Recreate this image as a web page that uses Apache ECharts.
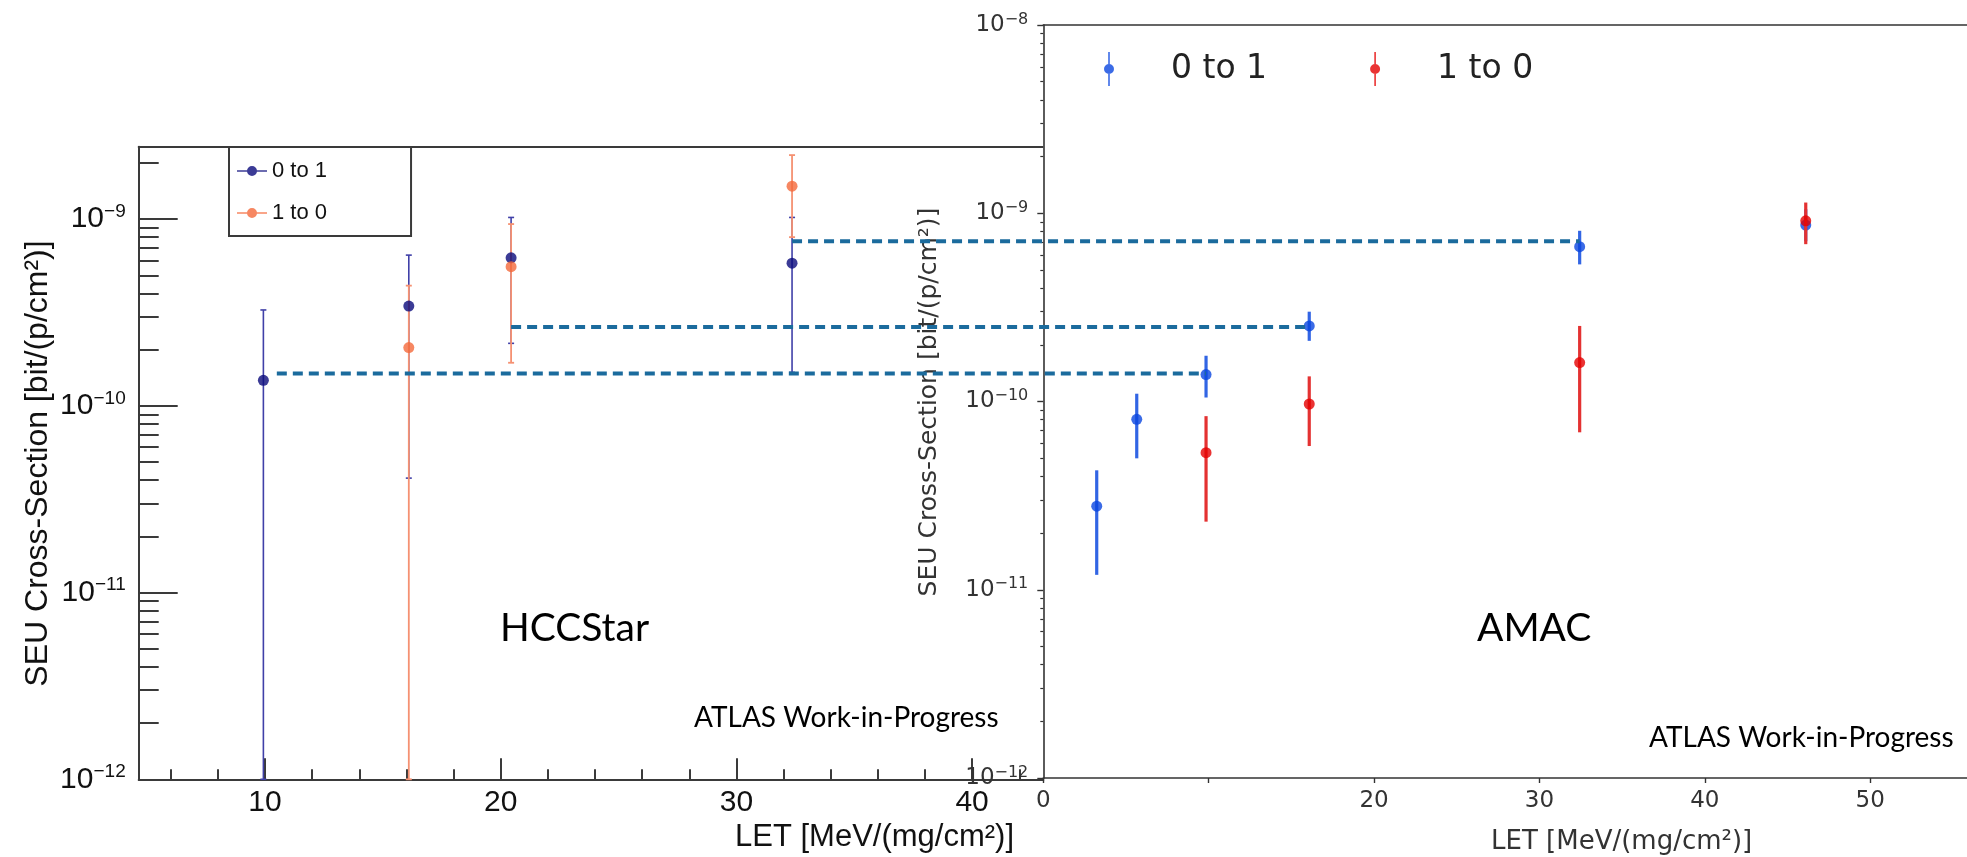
<!DOCTYPE html>
<html>
<head>
<meta charset="utf-8">
<script src="https://cdn.jsdelivr.net/npm/echarts@6/dist/echarts.min.js"></script>
<style>
html, body { margin: 0; padding: 0; background: #fff; }
#main { width: 1967px; height: 857px; }
</style>
</head>
<body>
<div id="main"></div>
<script>
// HCCStar (left plot)
var hccLet01 = [9.93, 16.1, 20.44, 32.36];
var hccSeu01 = [1.37e-10, 3.42e-10, 6.2e-10, 5.8e-10];
var hccHi01 = [3.26e-10, 6.41e-10, 1.02e-9, 1.02e-9];
var hccLo01 = [1e-12, 4.1e-11, 2.16e-10, 1.51e-10];

var hccLet10 = [16.1, 20.44, 32.36];
var hccSeu10 = [2.05e-10, 5.56e-10, 1.5e-9];
var hccHi10 = [4.4e-10, 9.4e-10, 2.2e-9];
var hccLo10 = [1e-12, 1.7e-10, 8.0e-10];

// AMAC (right plot)
var amacLet01 = [3.23, 5.65, 9.84, 16.08, 32.43, 46.1];
var amacSeu01 = [2.78e-11, 8.04e-11, 1.39e-10, 2.52e-10, 6.64e-10, 8.65e-10];
var amacHi01 = [4.31e-11, 1.1e-10, 1.75e-10, 3.0e-10, 8.07e-10, 1.05e-9];
var amacLo01 = [1.2e-11, 4.99e-11, 1.05e-10, 2.1e-10, 5.35e-10, 7.1e-10];

var amacLet10 = [9.84, 16.08, 32.43, 46.1];
var amacSeu10 = [5.35e-11, 9.7e-11, 1.61e-10, 9.12e-10];
var amacHi10 = [8.36e-11, 1.36e-10, 2.52e-10, 1.14e-9];
var amacLo10 = [2.3e-11, 5.8e-11, 6.86e-11, 6.85e-10];

// dashed guides: from HCCStar LET to AMAC LET at an AMAC cross-section level
var guideFromLet = [10.5, 20.44, 32.36];
var guideToLet = [9.84, 16.08, 32.43];
var guideSeu = [1.41e-10, 2.49e-10, 7.1e-10];

// axis ticks
var hccXLabels = [10, 20, 30, 40];
var hccXMinor = [6, 8, 12, 14, 16, 18, 22, 24, 26, 28, 32, 34, 36, 38, 42];
var hccYMajor = [1e-12, 1e-11, 1e-10, 1e-9];
var amacXLabels = [0, 20, 30, 40, 50];
var amacXTicks = [0, 10, 20, 30, 40, 50];
var amacYMajor = [1e-12, 1e-11, 1e-10, 1e-9, 1e-8];

function logMinors(majors, top) {
    var out = [];
    for (var i = 0; i < majors.length; i++) {
        for (var k = 2; k <= 9; k++) {
            var v = k * majors[i];
            if (v < top) out.push(v);
        }
    }
    return out;
}
var hccYMinor = logMinors(hccYMajor, 2.44e-9);
var amacYMinor = logMinors(amacYMajor, 1e-8);

function pts(xs, ys) {
    var d = [];
    for (var i = 0; i < xs.length; i++) d.push([xs[i], ys[i]]);
    return d;
}
function bars(xs, lo, hi) {
    var d = [];
    for (var i = 0; i < xs.length; i++) d.push([xs[i], lo[i], hi[i]]);
    return d;
}
function errorBar(color, width, cap) {
    return function (params, api) {
        var x = api.value(0);
        var a = api.coord([x, api.value(2)]);
        var b = api.coord([x, api.value(1)]);
        var kids = [{
            type: 'line',
            shape: { x1: a[0], y1: a[1], x2: b[0], y2: b[1] },
            style: { stroke: color, lineWidth: width }
        }];
        if (cap) {
            kids.push({ type: 'line', shape: { x1: a[0] - cap, y1: a[1], x2: a[0] + cap, y2: a[1] }, style: { stroke: color, lineWidth: width } });
            kids.push({ type: 'line', shape: { x1: b[0] - cap, y1: b[1], x2: b[0] + cap, y2: b[1] }, style: { stroke: color, lineWidth: width } });
        }
        return { type: 'group', children: kids };
    };
}
function powLabel(v) {
    var e = Math.round(Math.log10(v));
    return '{b|10}{s|\u2212' + (-e) + '}';
}

var ROOTFONT = 'Liberation Sans';
var MPLFONT = 'DejaVu Sans';
var NOTEFONT = 'Lato';
var frame = '#3a3a3a';
var mplAxis = '#333';

var chart = echarts.init(document.getElementById('main'));

var option = {
    animation: false,
    backgroundColor: '#fff',
    grid: [
        { left: 138.7, top: 146.7, width: 904.6, height: 632.6, containLabel: false },
        { left: 1043.3, top: 25, width: 923.7, height: 753, show: true, backgroundColor: '#fff', borderWidth: 0, z: 5 }
    ],
    legend: [
        {
            data: [
                { name: 'HCCStar 0 to 1', icon: 'path://M0,4.2H30V5.8H0Z M10,5A5,5,0,1,1,20,5A5,5,0,1,1,10,5Z' },
                { name: 'HCCStar 1 to 0', icon: 'path://M0,4.2H30V5.8H0Z M10,5A5,5,0,1,1,20,5A5,5,0,1,1,10,5Z' }
            ],
            formatter: function (n) { return n.replace('HCCStar ', ''); },
            orient: 'vertical',
            left: 229, top: 147,
            padding: [13, 84, 12, 8],
            itemGap: 20, itemWidth: 30, itemHeight: 10,
            backgroundColor: '#fff', borderColor: frame, borderWidth: 2,
            selectedMode: false,
            textStyle: { fontFamily: ROOTFONT, fontSize: 22, color: '#111' },
            z: 4
        },
        {
            data: [
                { name: 'AMAC 0 to 1', icon: 'path://M4.2,0H5.8V34H4.2Z M0,17A5,5,0,1,1,10,17A5,5,0,1,1,0,17Z' },
                { name: 'AMAC 1 to 0', icon: 'path://M4.2,0H5.8V34H4.2Z M0,17A5,5,0,1,1,10,17A5,5,0,1,1,0,17Z' }
            ],
            formatter: function (n) { return n.replace('AMAC ', ''); },
            orient: 'horizontal',
            left: 1104, top: 52,
            padding: 0,
            itemGap: 103, itemWidth: 10, itemHeight: 34,
            selectedMode: false,
            textStyle: { fontFamily: MPLFONT, fontSize: 33, color: '#222', padding: [0, 0, 0, 52] },
            z: 8
        }
    ],
    xAxis: [
        {   // 0: HCCStar main
            type: 'value', gridIndex: 0, position: 'bottom', min: 4.64, max: 43.02,
            axisLine: { onZero: false, lineStyle: { color: frame, width: 2 } },
            axisTick: { inside: true, length: 21, customValues: hccXLabels, lineStyle: { color: frame, width: 2 } },
            axisLabel: { customValues: hccXLabels, margin: 8, fontFamily: ROOTFONT, fontSize: 30, color: '#111', showMinLabel: true, showMaxLabel: true },
            splitLine: { show: false }
        },
        {   // 1: HCCStar minor ticks
            type: 'value', gridIndex: 0, position: 'bottom', min: 4.64, max: 43.02,
            axisLine: { show: false, onZero: false },
            axisTick: { inside: true, length: 10, customValues: hccXMinor, lineStyle: { color: frame, width: 2 } },
            axisLabel: { show: false },
            splitLine: { show: false }
        },
        {   // 2: HCCStar top frame
            type: 'value', gridIndex: 0, position: 'top', min: 4.64, max: 43.02,
            axisLine: { onZero: false, lineStyle: { color: frame, width: 2 } },
            axisTick: { show: false }, axisLabel: { show: false }, splitLine: { show: false }
        },
        {   // 3: AMAC main
            type: 'value', gridIndex: 1, position: 'bottom', min: 0, max: 55.85, z: 6,
            axisLine: { onZero: false, lineStyle: { color: mplAxis, width: 1.6 } },
            axisTick: { inside: false, length: 5, customValues: amacXTicks, lineStyle: { color: mplAxis, width: 1.4 } },
            axisLabel: { customValues: amacXLabels, margin: 12, fontFamily: MPLFONT, fontSize: 23, color: '#333', showMinLabel: true, showMaxLabel: true },
            splitLine: { show: false }
        },
        {   // 4: AMAC top frame
            type: 'value', gridIndex: 1, position: 'top', min: 0, max: 55.85, z: 6,
            axisLine: { onZero: false, lineStyle: { color: mplAxis, width: 1.6 } },
            axisTick: { show: false }, axisLabel: { show: false }, splitLine: { show: false }
        }
    ],
    yAxis: [
        {   // 0: HCCStar main
            type: 'log', gridIndex: 0, position: 'left', min: 1e-12, max: 2.44e-9,
            axisLine: { onZero: false, lineStyle: { color: frame, width: 2 } },
            axisTick: { inside: true, length: 39, customValues: hccYMajor, lineStyle: { color: frame, width: 2 } },
            axisLabel: {
                customValues: hccYMajor, margin: 13, formatter: powLabel, showMinLabel: true, showMaxLabel: true,
                rich: {
                    b: { fontFamily: ROOTFONT, fontSize: 30, color: '#111', lineHeight: 34 },
                    s: { fontFamily: ROOTFONT, fontSize: 19, color: '#111', verticalAlign: 'top', lineHeight: 20 }
                }
            },
            splitLine: { show: false }
        },
        {   // 1: HCCStar minor ticks
            type: 'log', gridIndex: 0, position: 'left', min: 1e-12, max: 2.44e-9,
            axisLine: { show: false, onZero: false },
            axisTick: { inside: true, length: 20, customValues: hccYMinor, lineStyle: { color: frame, width: 2 } },
            axisLabel: { show: false },
            splitLine: { show: false }
        },
        {   // 2: AMAC main
            type: 'log', gridIndex: 1, position: 'left', min: 1e-12, max: 1e-8, z: 6,
            axisLine: { onZero: false, lineStyle: { color: mplAxis, width: 1.6 } },
            axisTick: { inside: false, length: 6, customValues: amacYMajor, lineStyle: { color: mplAxis, width: 1.4 } },
            axisLabel: {
                customValues: amacYMajor, margin: 15, formatter: powLabel, showMinLabel: true, showMaxLabel: true,
                rich: {
                    b: { fontFamily: MPLFONT, fontSize: 23, color: '#333', lineHeight: 27 },
                    s: { fontFamily: MPLFONT, fontSize: 16, color: '#333', verticalAlign: 'top', lineHeight: 17 }
                }
            },
            splitLine: { show: false }
        },
        {   // 3: AMAC minor ticks
            type: 'log', gridIndex: 1, position: 'left', min: 1e-12, max: 1e-8, z: 6,
            axisLine: { show: false, onZero: false },
            axisTick: { inside: false, length: 3, customValues: amacYMinor, lineStyle: { color: mplAxis, width: 1.2 } },
            axisLabel: { show: false },
            splitLine: { show: false }
        }
    ],
    series: [
        {
            name: 'HCCStar 0 to 1 err', type: 'custom', xAxisIndex: 0, yAxisIndex: 0, z: 2,
            renderItem: errorBar('#4040a8', 1.6, 3), encode: { x: 0, y: [1, 2] },
            data: bars(hccLet01, hccLo01, hccHi01)
        },
        {
            name: 'HCCStar 1 to 0 err', type: 'custom', xAxisIndex: 0, yAxisIndex: 0, z: 2,
            renderItem: errorBar('#f59172', 1.8, 3), encode: { x: 0, y: [1, 2] },
            data: bars(hccLet10, hccLo10, hccHi10)
        },
        {
            name: 'HCCStar 0 to 1', type: 'scatter', xAxisIndex: 0, yAxisIndex: 0, z: 3,
            symbol: 'circle', symbolSize: 11, itemStyle: { color: '#0a0a7c' },
            data: pts(hccLet01, hccSeu01)
        },
        {
            name: 'HCCStar 1 to 0', type: 'scatter', xAxisIndex: 0, yAxisIndex: 0, z: 3,
            symbol: 'circle', symbolSize: 11, itemStyle: { color: '#f4693b' },
            data: pts(hccLet10, hccSeu10)
        },
        {
            name: 'AMAC 0 to 1 err', type: 'custom', xAxisIndex: 3, yAxisIndex: 2, z: 7,
            renderItem: errorBar('#3265e4', 3.2, 0), encode: { x: 0, y: [1, 2] },
            data: bars(amacLet01, amacLo01, amacHi01)
        },
        {
            name: 'AMAC 0 to 1', type: 'scatter', xAxisIndex: 3, yAxisIndex: 2, z: 8,
            symbol: 'circle', symbolSize: 11, itemStyle: { color: '#0a46e0' },
            data: pts(amacLet01, amacSeu01)
        },
        {
            name: 'AMAC 1 to 0 err', type: 'custom', xAxisIndex: 3, yAxisIndex: 2, z: 9,
            renderItem: errorBar('#e43232', 3.2, 0), encode: { x: 0, y: [1, 2] },
            data: bars(amacLet10, amacLo10, amacHi10)
        },
        {
            name: 'AMAC 1 to 0', type: 'scatter', xAxisIndex: 3, yAxisIndex: 2, z: 10,
            symbol: 'circle', symbolSize: 11, itemStyle: { color: '#e50000' },
            data: pts(amacLet10, amacSeu10)
        }
    ]
};
chart.setOption(option);

// texts and the dashed guide lines spanning both plots
var els = [
    { type: 'text', x: 38, y: 463.5, rotation: Math.PI / 2, z: 20,
      style: { text: 'SEU Cross-Section [bit/(p/cm\u00b2)]', fontFamily: ROOTFONT, fontSize: 32, fill: '#111', align: 'center', verticalAlign: 'middle' } },
    { type: 'text', x: 735, y: 837, z: 20,
      style: { text: 'LET [MeV/(mg/cm\u00b2)]', fontFamily: ROOTFONT, fontSize: 31, fill: '#111', align: 'left', verticalAlign: 'middle' } },
    { type: 'text', x: 929, y: 402, rotation: Math.PI / 2, z: 20,
      style: { text: 'SEU Cross-Section [bit/(p/cm\u00b2)]', fontFamily: MPLFONT, fontSize: 25, fill: '#333', align: 'center', verticalAlign: 'middle' } },
    { type: 'text', x: 1491, y: 842.5, z: 20,
      style: { text: 'LET [MeV/(mg/cm\u00b2)]', fontFamily: MPLFONT, fontSize: 26, fill: '#333', align: 'left', verticalAlign: 'middle' } },
    { type: 'text', x: 500, y: 628, z: 20,
      style: { text: 'HCCStar', fontFamily: NOTEFONT, fontSize: 39, fill: '#000', align: 'left', verticalAlign: 'middle' } },
    { type: 'text', x: 1477, y: 628, z: 20,
      style: { text: 'AMAC', fontFamily: NOTEFONT, fontSize: 39, fill: '#000', align: 'left', verticalAlign: 'middle' } },
    { type: 'text', x: 694, y: 718, z: 20,
      style: { text: 'ATLAS Work-in-Progress', fontFamily: NOTEFONT, fontSize: 28, fill: '#000', align: 'left', verticalAlign: 'middle' } },
    { type: 'text', x: 1649, y: 737.5, z: 20,
      style: { text: 'ATLAS Work-in-Progress', fontFamily: NOTEFONT, fontSize: 28, fill: '#000', align: 'left', verticalAlign: 'middle' } }
];
for (var i = 0; i < guideSeu.length; i++) {
    var x1 = chart.convertToPixel({ xAxisIndex: 0 }, guideFromLet[i]);
    var x2 = chart.convertToPixel({ xAxisIndex: 3 }, guideToLet[i]);
    var y = chart.convertToPixel({ yAxisIndex: 2 }, guideSeu[i]);
    els.push({
        type: 'line', z: 30,
        shape: { x1: x1, y1: y, x2: x2, y2: y },
        style: { stroke: '#1b6b9d', lineWidth: 4, lineDash: [10, 6] }
    });
}
chart.setOption({ graphic: { elements: els } });
</script>
</body>
</html>
